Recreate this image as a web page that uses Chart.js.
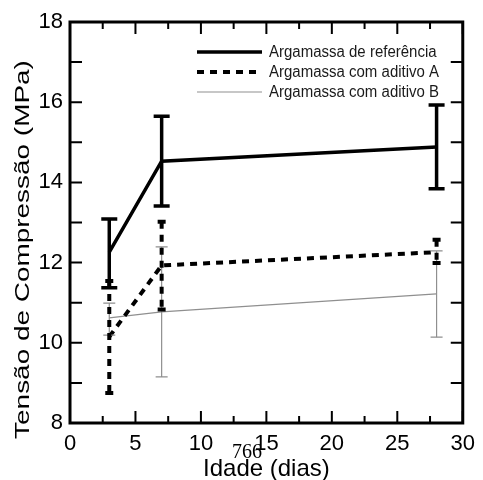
<!DOCTYPE html>
<html>
<head>
<meta charset="utf-8">
<script src="https://cdn.jsdelivr.net/npm/chart.js@4.4.0/dist/chart.umd.min.js"></script>
<style>
  html, body { margin: 0; padding: 0; background: #fff; }
  #wrap { width: 483px; height: 480px; }
</style>
</head>
<body>
<div id="wrap"><canvas id="myChart"></canvas></div>
<script>
// idades de ensaio (dias)
const ages = [3, 7, 28];

// médias e limites das barras de erro (MPa)
const refMean = [12.26, 14.53, 14.88];
const refLow = [11.37, 13.41, 13.84];
const refHigh = [13.09, 15.65, 15.93];

const aMean = [10.15, 11.93, 12.26];
const aLow = [8.75, 10.83, 11.99];
const aHigh = [11.54, 13.02, 12.57];

const bMean = [10.62, 10.77, 11.22];
const bLow = [10.19, 9.15, 10.14];
const bHigh = [10.99, 12.39, 12.29];

const seriesNames = [
  "Argamassa de referência",
  "Argamassa com aditivo A",
  "Argamassa com aditivo B"
];

const xTicks = [0, 5, 10, 15, 20, 25, 30];
const yTicks = [8, 10, 12, 14, 16, 18];

const yTitle = "Tensão de Compressão (MPa)";

const FONT = "'Liberation Sans', Arial, sans-serif";

const toPoints = (means) => ages.map((a, i) => ({ x: a, y: means[i] }));

// barras de erro desenhadas com as escalas do gráfico
const errorBars = {
  id: "errorBars",
  afterDatasetsDraw(chart) {
    const ctx = chart.ctx;
    const xs = chart.scales.x, ys = chart.scales.y;
    // desenha B, A e depois referência por cima
    [2, 1, 0].forEach((di) => {
      const ds = chart.data.datasets[di];
      ctx.save();
      ctx.strokeStyle = ds.borderColor;
      ctx.lineWidth = ds.errWidth;
      ages.forEach((a, i) => {
        const px = xs.getPixelForValue(a);
        const top = ys.getPixelForValue(ds.errHigh[i]);
        const bot = ys.getPixelForValue(ds.errLow[i]);
        ctx.setLineDash(ds.borderDash || []);
        ctx.beginPath();
        ctx.moveTo(px, top);
        ctx.lineTo(px, bot);
        ctx.stroke();
        ctx.setLineDash([]);
        ctx.beginPath();
        ctx.moveTo(px - ds.capHalf, top);
        ctx.lineTo(px + ds.capHalf, top);
        ctx.moveTo(px - ds.capHalf, bot);
        ctx.lineTo(px + ds.capHalf, bot);
        ctx.stroke();
      });
      ctx.restore();
    });
  }
};

// moldura, marcas para dentro, legenda e título do eixo y
const frame = {
  id: "frame",
  afterDraw(chart) {
    const ctx = chart.ctx;
    const { left, right, top, bottom } = chart.chartArea;
    const xs = chart.scales.x, ys = chart.scales.y;
    ctx.save();
    ctx.strokeStyle = "#000";
    ctx.lineWidth = 2;
    for (let v = 0; v <= 30; v += 2.5) {
      const px = xs.getPixelForValue(v);
      const len = v % 5 === 0 ? 12 : 7;
      ctx.beginPath();
      ctx.moveTo(px, bottom); ctx.lineTo(px, bottom - len);
      ctx.moveTo(px, top); ctx.lineTo(px, top + len);
      ctx.stroke();
    }
    for (let v = 8; v <= 18; v += 1) {
      const py = ys.getPixelForValue(v);
      ctx.beginPath();
      ctx.moveTo(left, py); ctx.lineTo(left + 12, py);
      ctx.moveTo(right, py); ctx.lineTo(right - 12, py);
      ctx.stroke();
    }
    ctx.lineWidth = 3;
    ctx.strokeRect(left, top, right - left, bottom - top);

    // legenda
    chart.data.datasets.forEach((ds, i) => {
      const y = 52 + i * 20;
      ctx.strokeStyle = ds.borderColor;
      ctx.lineWidth = ds.borderWidth;
      ctx.setLineDash(ds.borderDash || []);
      ctx.beginPath();
      ctx.moveTo(197, y); ctx.lineTo(262, y);
      ctx.stroke();
      ctx.setLineDash([]);
      ctx.save();
      ctx.translate(269, y);
      ctx.scale(1, 1.15);
      ctx.font = "15px " + FONT;
      ctx.textBaseline = "middle";
      ctx.fillStyle = "#1a1a1a";
      ctx.fillText(ds.label, 0, 0);
      ctx.restore();
    });

    // título do eixo y (esticado como no original)
    ctx.save();
    ctx.translate(23, (top + bottom) / 2 + 27);
    ctx.rotate(-Math.PI / 2);
    ctx.scale(1.33, 1);
    ctx.font = "21px " + FONT;
    ctx.textAlign = "center";
    ctx.textBaseline = "middle";
    ctx.fillStyle = "#000";
    ctx.fillText(yTitle, 0, 0);
    ctx.restore();

    // número de página do documento original
    ctx.font = "20px 'Liberation Serif', 'Times New Roman', serif";
    ctx.fillStyle = "#000";
    ctx.textAlign = "left";
    ctx.textBaseline = "middle";
    ctx.fillText("766", 232, 453);
    ctx.restore();
  }
};

const ctx = document.getElementById("myChart").getContext("2d");

const myChart = new Chart(ctx, {
  type: "line",
  data: {
    datasets: [
      {
        label: seriesNames[0],
        data: toPoints(refMean),
        errLow: refLow, errHigh: refHigh,
        borderColor: "#000",
        borderWidth: 3.5,
        errWidth: 3.5,
        capHalf: 8,
        pointRadius: 0
      },
      {
        label: seriesNames[1],
        data: toPoints(aMean),
        errLow: aLow, errHigh: aHigh,
        borderColor: "#000",
        borderWidth: 4,
        borderDash: [7, 6],
        errWidth: 4,
        capHalf: 4,
        pointRadius: 0
      },
      {
        label: seriesNames[2],
        data: toPoints(bMean),
        errLow: bLow, errHigh: bHigh,
        borderColor: "#8f8f8f",
        borderWidth: 1.2,
        errWidth: 1.2,
        capHalf: 6,
        pointRadius: 0
      }
    ]
  },
  options: {
    responsive: true,
    maintainAspectRatio: false,
    animation: false,
    layout: { padding: { top: 22, right: 11, left: 0, bottom: 0 } },
    plugins: {
      legend: { display: false },
      tooltip: { enabled: false }
    },
    scales: {
      x: {
        type: "linear",
        min: 0,
        max: 30,
        afterBuildTicks: (s) => { s.ticks = xTicks.map((v) => ({ value: v })); },
        afterFit: (s) => { s.height = 57; },
        grid: { display: false, drawTicks: false },
        border: { display: false },
        ticks: { color: "#000", padding: 8, font: { family: FONT, size: 22 }, maxRotation: 0 },
        title: {
          display: true,
          text: "Idade (dias)",
          color: "#000",
          font: { family: FONT, size: 24, lineHeight: 1 },
          padding: { top: 0, bottom: -1 }
        }
      },
      y: {
        min: 8,
        max: 18,
        afterBuildTicks: (s) => { s.ticks = yTicks.map((v) => ({ value: v })); },
        afterFit: (s) => { s.width = 70; },
        grid: { display: false, drawTicks: false },
        border: { display: false },
        ticks: { color: "#000", padding: 7, font: { family: FONT, size: 22 } }
      }
    }
  },
  plugins: [errorBars, frame]
});
</script>
</body>
</html>
